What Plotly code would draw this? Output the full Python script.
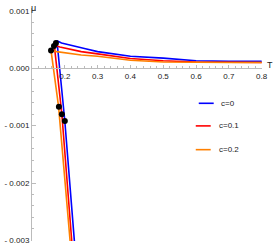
import plotly.graph_objects as go

# ---- data ----
series_labels = ["c=0", "c=0.1", "c=0.2"]
series_colors = ["#0000ff", "#ff0000", "#ff8000"]

T_c0 = [0.234, 0.229, 0.200, 0.176, 0.190, 0.215, 0.263, 0.300, 0.400, 0.500, 0.600, 0.700, 0.800]
mu_c0 = [-0.0033, -0.0030, -0.00092, 0.00048, 0.00044, 0.00041, 0.00034, 0.00029, 0.00021, 0.000176, 0.00013, 0.00012, 0.00012]

T_c1 = [0.226, 0.221, 0.191, 0.168, 0.185, 0.200, 0.250, 0.300, 0.400, 0.500, 0.600, 0.700, 0.800]
mu_c1 = [-0.0033, -0.0030, -0.00080, 0.00040, 0.00037, 0.00035, 0.00029, 0.00025, 0.00017, 0.00013, 0.00011, 0.000105, 0.00010]

T_c2 = [0.220, 0.216, 0.181, 0.158, 0.175, 0.200, 0.250, 0.300, 0.400, 0.500, 0.600, 0.700, 0.800]
mu_c2 = [-0.0033, -0.0030, -0.00067, 0.00031, 0.00029, 0.00027, 0.00023, 0.00021, 0.00014, 0.00011, 0.00010, 0.00010, 0.00010]

dots_T = [0.173, 0.167, 0.158, 0.182, 0.191, 0.200]
dots_mu = [0.00044, 0.00039, 0.00031, -0.00067, -0.00080, -0.00092]

x_tickvals = [0.2, 0.3, 0.4, 0.5, 0.6, 0.7, 0.8]
x_ticktext = ["0.2", "0.3", "0.4", "0.5", "0.6", "0.7", "0.8"]
y_tickvals = [0.001, 0.0, -0.001, -0.002, -0.003]
y_ticktext = ["0.001", "0.000", "- 0.001", "- 0.002", "- 0.003"]

x_range = [0.1, 0.801]
y_range = [-0.00301, 0.00105]

# ---- figure ----
fig = go.Figure()
for T, mu, col in zip([T_c0, T_c1, T_c2], [mu_c0, mu_c1, mu_c2], series_colors):
    fig.add_trace(go.Scatter(x=T, y=mu, mode="lines",
                             line=dict(color=col, width=1.6), showlegend=False))
fig.add_trace(go.Scatter(x=dots_T, y=dots_mu, mode="markers",
                         marker=dict(color="black", size=6), showlegend=False))

axis_col = "#bbbbbb"
font_fam = "Liberation Sans, Arial, sans-serif"
tick_font = dict(family=font_fam, size=8, color="#222222")
xpos = (0 - y_range[0]) / (y_range[1] - y_range[0])

fig.update_layout(
    width=274, height=249,
    margin=dict(l=29, r=12, t=8, b=4),
    paper_bgcolor="white", plot_bgcolor="white",
    xaxis=dict(range=x_range, anchor="free", position=xpos,
               tickvals=x_tickvals, ticktext=x_ticktext,
               ticks="inside", ticklen=3, tickcolor=axis_col, tickwidth=1,
               showline=True, linecolor=axis_col, linewidth=1,
               showgrid=False, zeroline=False, tickfont=tick_font,
               ticklabeloverflow="allow",
               minor=dict(ticks="inside", ticklen=2, dtick=0.02, tickcolor=axis_col, showgrid=False)),
    yaxis=dict(range=y_range,
               tickvals=y_tickvals, ticktext=y_ticktext,
               ticks="inside", ticklen=4, tickcolor=axis_col, tickwidth=1,
               showline=True, linecolor=axis_col, linewidth=1,
               showgrid=False, zeroline=False, tickfont=tick_font,
               ticklabeloverflow="allow",
               minor=dict(ticks="inside", ticklen=2, dtick=0.0002, tickcolor=axis_col, showgrid=False)),
)

# axis labels
fig.add_annotation(text="T", xref="paper", yref="paper", x=1.0, y=xpos,
                   xanchor="left", yanchor="bottom", xshift=3, yshift=-4, showarrow=False,
                   font=dict(family=font_fam, size=9, color="#222222"))
fig.add_annotation(text="μ", xref="paper", yref="paper", x=0.0, y=1.0,
                   xanchor="center", yanchor="bottom", xshift=1, yshift=-7, showarrow=False,
                   font=dict(family=font_fam, size=9, color="#222222"))

# manual legend
leg_x0 = [0.725, 0.712, 0.712]
leg_y = [0.591, 0.494, 0.392]
leg_tx = [0.815, 0.803, 0.803]
for lab, col, x0, y, tx in zip(series_labels, series_colors, leg_x0, leg_y, leg_tx):
    fig.add_shape(type="line", xref="paper", yref="paper", x0=x0, x1=x0 + 0.065, y0=y, y1=y,
                  line=dict(color=col, width=1.6))
    fig.add_annotation(text=lab, xref="paper", yref="paper", x=tx, y=y, xanchor="left",
                       yanchor="middle", showarrow=False,
                       font=dict(family=font_fam, size=8, color="#222222"))

fig.write_html("out.html", config={"displayModeBar": False},
               post_script="document.body.style.margin='0';")
